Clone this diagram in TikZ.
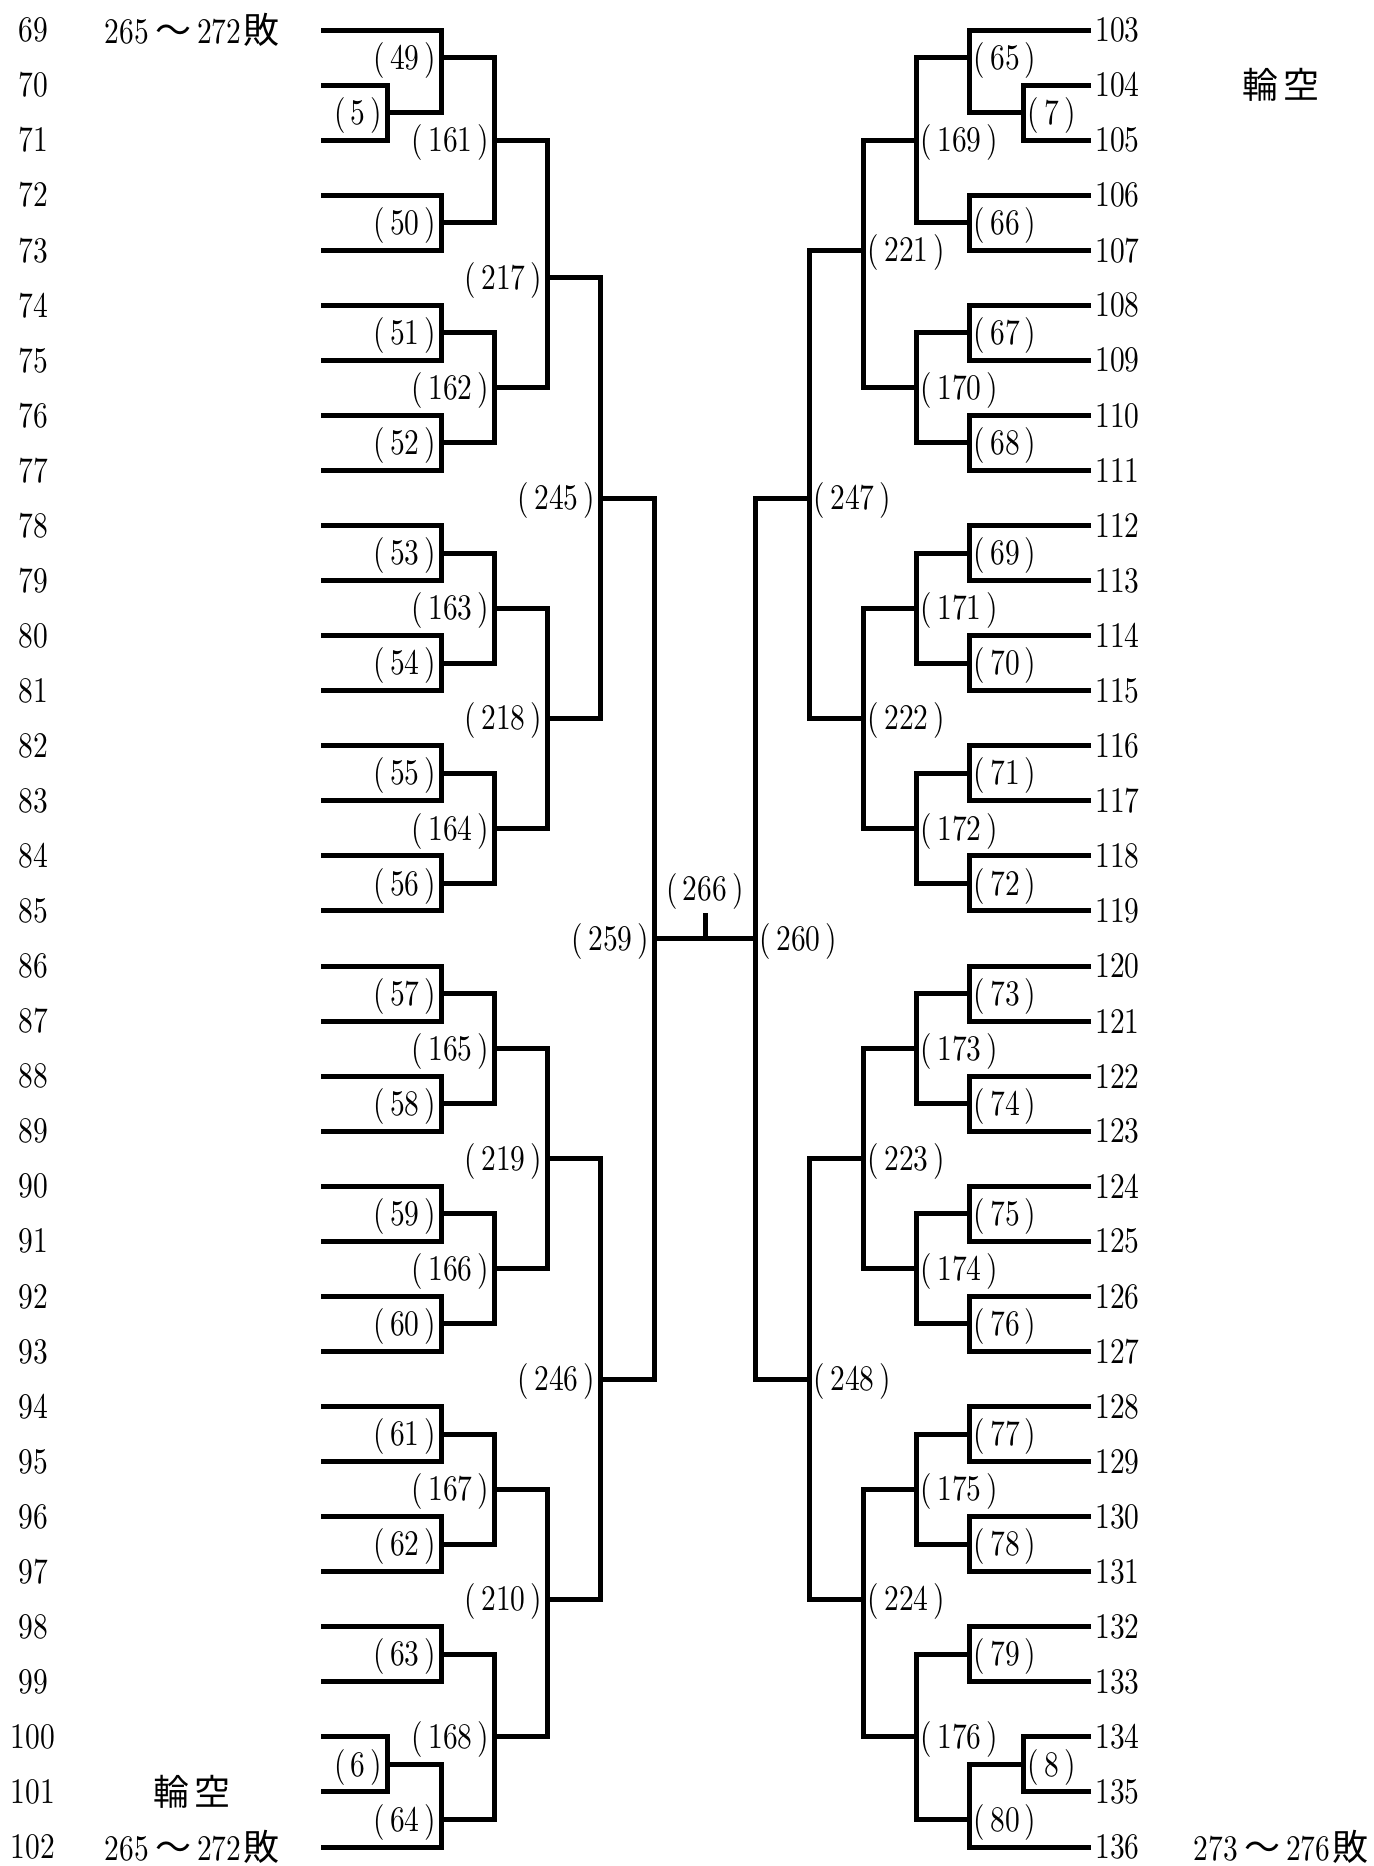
\documentclass[tikz,border=0pt]{standalone}
\usepackage{fontspec}
\setmainfont{lmroman10-regular.otf}[FakeStretch=0.82]
\newfontfamily\jpfont{Noto Sans CJK JP}
\newcommand\jp[1]{{\jpfont\fontsize{18pt}{20pt}\selectfont #1}}
\newcommand\pr[1]{(\kern2.5pt#1\kern2.5pt)}
\usetikzlibrary{positioning}

\begin{document}
\begin{tikzpicture}[x=0.5pt, y=-27.53pt,
    font=\fontsize{18pt}{20pt}\selectfont,
    line/.style={line width=2.5pt},
    num/.style={inner sep=0pt},
    lab/.style={inner sep=0pt},
    labL/.style={lab, anchor=base east, xshift=-2.2pt, yshift=-5.8pt},
    labR/.style={lab, anchor=base west, xshift=2.2pt, yshift=-5.8pt},
    note/.style={inner sep=0pt}
  ]
  \useasboundingbox (0,-0.545) rectangle (1374,33.345);

  % entry numbers and leaf ends
  \foreach \r in {0,...,33} {
    \pgfmathtruncatemacro\lno{69+\r}
    \pgfmathtruncatemacro\rno{103+\r}
    \node[num] (l\lno) at (33,\r) {\lno};
    \node[num, anchor=west] (r\rno) at (1095,\r) {\rno};
    \coordinate (a\r) at (321,\r);
    \coordinate (b\r) at (1091,\r);
  }

  % left half
  \foreach \id/\x/\r/\p/\q in {
      5/387/1.5/a1/a2, 6/387/31.5/a31/a32,
      49/441/0.5/a0/m5, 50/441/3.5/a3/a4, 51/441/5.5/a5/a6,
      52/441/7.5/a7/a8, 53/441/9.5/a9/a10, 54/441/11.5/a11/a12,
      55/441/13.5/a13/a14, 56/441/15.5/a15/a16, 57/441/17.5/a17/a18,
      58/441/19.5/a19/a20, 59/441/21.5/a21/a22, 60/441/23.5/a23/a24,
      61/441/25.5/a25/a26, 62/441/27.5/a27/a28, 63/441/29.5/a29/a30,
      64/441/32.5/m6/a33,
      161/494/2/m49/m50, 162/494/6.5/m51/m52, 163/494/10.5/m53/m54,
      164/494/14.5/m55/m56, 165/494/18.5/m57/m58, 166/494/22.5/m59/m60,
      167/494/26.5/m61/m62, 168/494/31/m63/m64,
      217/547/4.5/m161/m162, 218/547/12.5/m163/m164,
      219/547/20.5/m165/m166, 210/547/28.5/m167/m168,
      245/600/8.5/m217/m218, 246/600/24.5/m219/m210,
      259/654/16.5/m245/m246} {
    \coordinate (m\id) at (\x,\r);
    \draw[line] (\p) -| (m\id);
    \draw[line] (\q) -| (m\id);
    \node[labL] (n\id) at (m\id) {\pr{\id}};
  }

  % right half
  \foreach \id/\x/\r/\p/\q in {
      7/1023/1.5/b1/b2, 8/1023/31.5/b31/b32,
      65/969/0.5/b0/m7, 66/969/3.5/b3/b4, 67/969/5.5/b5/b6,
      68/969/7.5/b7/b8, 69/969/9.5/b9/b10, 70/969/11.5/b11/b12,
      71/969/13.5/b13/b14, 72/969/15.5/b15/b16, 73/969/17.5/b17/b18,
      74/969/19.5/b19/b20, 75/969/21.5/b21/b22, 76/969/23.5/b23/b24,
      77/969/25.5/b25/b26, 78/969/27.5/b27/b28, 79/969/29.5/b29/b30,
      80/969/32.5/m8/b33,
      169/916/2/m65/m66, 170/916/6.5/m67/m68, 171/916/10.5/m69/m70,
      172/916/14.5/m71/m72, 173/916/18.5/m73/m74, 174/916/22.5/m75/m76,
      175/916/26.5/m77/m78, 176/916/31/m79/m80,
      221/863/4/m169/m170, 222/863/12.5/m171/m172,
      223/863/20.5/m173/m174, 224/863/28.5/m175/m176,
      247/809/8.5/m221/m222, 248/809/24.5/m223/m224,
      260/755/16.5/m247/m248} {
    \coordinate (m\id) at (\x,\r);
    \draw[line] (\p) -| (m\id);
    \draw[line] (\q) -| (m\id);
    \node[labR] (n\id) at (m\id) {\pr{\id}};
  }

  % final
  \draw[line] (m259) -- (m260);
  \coordinate (t266) at (705,16.5);
  \coordinate (tip266) at (705,16.03);
  \draw[line] (t266) -- (tip266);
  \node[lab, above=1.5pt of tip266] (n266) {\pr{266}};

  % notes
  \node[note] (lose1) at (192,0) {265\kern3pt\jp{～}\kern3pt 272\kern1pt\jp{敗}};
  \node[note] (bye1) at (192,32) {\jp{輪\kern0.15em 空}};
  \node[note] (lose2) at (192,33) {265\kern3pt\jp{～}\kern3pt 272\kern1pt\jp{敗}};
  \node[note] (bye2) at (1281,1) {\jp{輪\kern0.15em 空}};
  \node[note] (lose3) at (1281,33) {273\kern3pt\jp{～}\kern3pt 276\kern1pt\jp{敗}};
\end{tikzpicture}
\end{document}
